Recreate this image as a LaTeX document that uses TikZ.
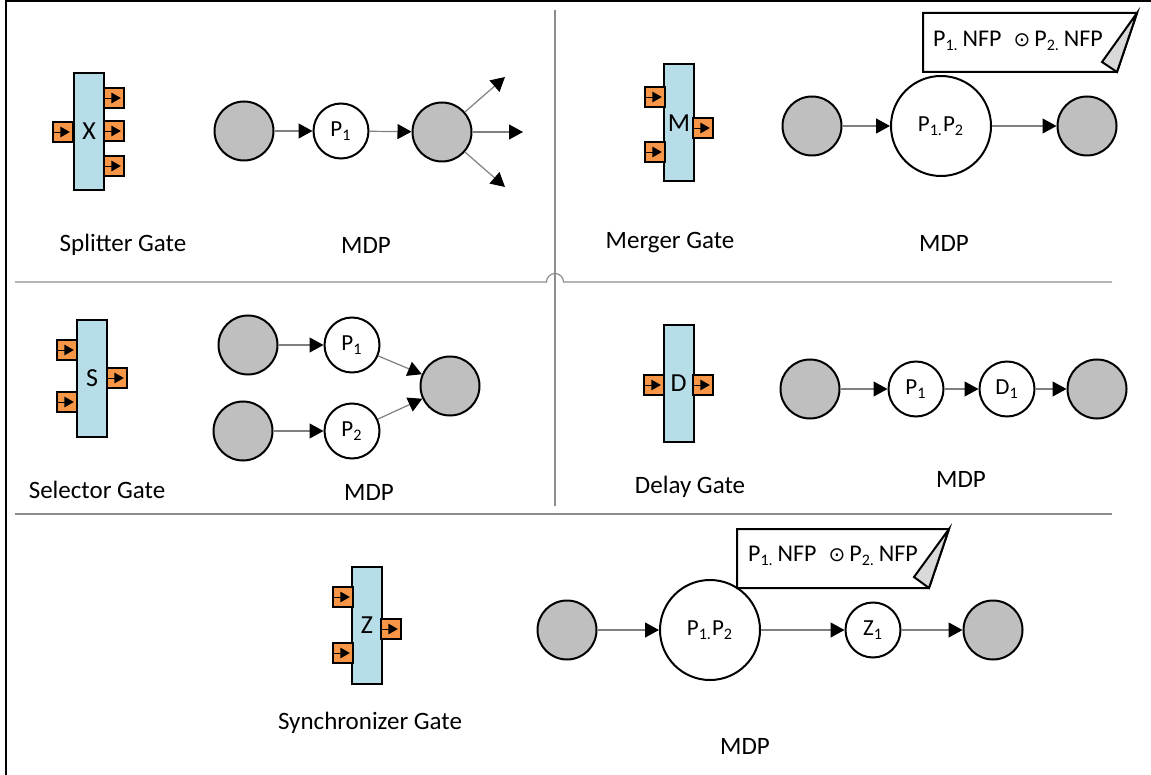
\documentclass[tikz,border=0pt]{standalone}
\usepackage{fontspec}
\setmainfont{Carlito}
\newfontfamily\symfont{DejaVu Sans}
\usetikzlibrary{arrows.meta,positioning}
\definecolor{gatefill}{HTML}{B7DDE8}
\definecolor{portfill}{HTML}{F79646}
\definecolor{placegray}{HTML}{BFBFBF}
\definecolor{foldgray}{HTML}{D9D9D9}
\definecolor{wire}{HTML}{7F7F7F}
\definecolor{rule}{HTML}{8C8C8C}
\tikzset{
  gate/.style={
    rectangle,
    draw=black,
    line width=1pt,
    fill=gatefill,
    minimum width=15pt,
    minimum height=58.5pt,
    inner sep=0pt,
    font=\fontsize{13}{15}\selectfont
  },
  port/.style={
    rectangle,
    draw=black,
    line width=0.8pt,
    fill=portfill,
    minimum size=10pt,
    inner sep=0pt,
    path picture={
      \draw[black, line width=0.3pt] ([xshift=-4.5pt]path picture bounding box.center) -- (path picture bounding box.center);
      \fill[black] ([xshift=-1.3pt,yshift=2.7pt]path picture bounding box.center)
        -- ([xshift=3.4pt]path picture bounding box.center)
        -- ([xshift=-1.3pt,yshift=-2.7pt]path picture bounding box.center) -- cycle;
    }
  },
  place/.style={
    circle,
    draw=black,
    line width=1pt,
    fill=placegray,
    minimum size=29.5pt,
    inner sep=0pt
  },
  proc/.style={
    circle,
    draw=black,
    line width=1pt,
    fill=white,
    minimum size=27.5pt,
    inner sep=0pt,
    font=\fontsize{11.5}{13}\selectfont
  },
  bigproc/.style={proc, minimum size=50pt},
  flow/.style={
    -{Triangle[length=7pt,width=7.5pt,color=black]},
    draw=wire,
    line width=0.6pt
  },
  caption/.style={font=\fontsize{12.5}{15}\selectfont},
  notetext/.style={font=\fontsize{12}{14}\selectfont},
  note/.style={draw=black, line width=1pt, fill=white},
  fold/.style={draw=black, line width=1pt, fill=foldgray},
  divider/.style={draw=rule, line width=0.6pt}
}
\newcommand{\nfp}{P\textsubscript{1.}\,NFP\enspace{\symfont\fontsize{10}{12}\selectfont ⊙}\,P\textsubscript{2.}\,NFP}

\begin{document}
\begin{tikzpicture}[x=0.5pt, y=-0.5pt]
  \useasboundingbox (0,0) rectangle (1151,775);
  \draw[line width=1pt] (1151,1.5) -- (5.5,1.5) -- (5.5,775);

  % dividers
  \draw[divider] (15,282) -- (546.5,282) arc (180:360:8.5) -- (1112,282);
  \draw[divider] (555,10) -- (555,506);
  \draw[divider] (15,514) -- (1112,514);

  % splitter gate
  \node[gate] (gx) at (89,131.5) {X};
  \node[port] (gx-in) at (63,132) {};
  \node[port] (gx-out1) at (114,98) {};
  \node[port] (gx-out2) at (114,131) {};
  \node[port] (gx-out3) at (114,166) {};
  \node[caption] (gx-lbl) at (123,245) {Splitter Gate};

  \node[place] (sp-a) at (244,131) {};
  \node[proc] (sp-p1) at (341,131) {P\textsubscript{1}};
  \node[place] (sp-b) at (442,132) {};
  \coordinate (sp-up) at (505,77);
  \coordinate (sp-mid) at (523,132);
  \coordinate (sp-down) at (505,187);
  \draw[flow] (sp-a) -- (sp-p1);
  \draw[flow] (sp-p1) -- (sp-b);
  \draw[flow] (sp-b) -- (sp-up);
  \draw[flow] (sp-b) -- (sp-mid);
  \draw[flow] (sp-b) -- (sp-down);
  \node[caption] (sp-lbl) at (366,245) {MDP};

  % merger gate
  \node[gate] (gm) at (679,123) {M};
  \node[port] (gm-in1) at (655,97) {};
  \node[port] (gm-in2) at (655,152) {};
  \node[port] (gm-out) at (703,128) {};
  \node[caption] (gm-lbl) at (670,243) {Merger Gate};

  \node[place] (mg-a) at (812,126) {};
  \node[bigproc] (mg-p) at (941,126) {P\textsubscript{1.}P\textsubscript{2}};
  \node[place] (mg-b) at (1087,126) {};
  \draw[flow] (mg-a) -- (mg-p);
  \draw[flow] (mg-p) -- (mg-b);
  \node[caption] (mg-lbl) at (944,243) {MDP};

  \draw[note] (923,13) -- (1137,13) -- (1117,72) -- (923,72) -- cycle;
  \draw[fold] (1137,13) -- (1102,62) -- (1117,72) -- cycle;
  \node[notetext] (mg-nfp) at (1018,41) {\nfp};

  % selector gate
  \node[gate] (gs) at (92,378) {S};
  \node[port] (gs-in1) at (67,350) {};
  \node[port] (gs-in2) at (67,402) {};
  \node[port] (gs-out) at (117,378) {};
  \node[caption] (gs-lbl) at (97,490) {Selector Gate};

  \node[place] (sl-a) at (248,345) {};
  \node[proc] (sl-p1) at (352,345) {P\textsubscript{1}};
  \node[place] (sl-b) at (243,431) {};
  \node[proc] (sl-p2) at (352,431) {P\textsubscript{2}};
  \node[place] (sl-c) at (450,386) {};
  \draw[flow] (sl-a) -- (sl-p1);
  \draw[flow] (sl-b) -- (sl-p2);
  \draw[flow] (sl-p1) -- (sl-c);
  \draw[flow] (sl-p2) -- (sl-c);
  \node[caption] (sl-lbl) at (369,492) {MDP};

  % delay gate
  \node[gate] (gd) at (678.5,383) {D};
  \node[port] (gd-in) at (654,385) {};
  \node[port] (gd-out) at (703,385) {};
  \node[caption] (gd-lbl) at (690,487) {Delay Gate};

  \node[place] (dl-a) at (810,389) {};
  \node[proc] (dl-p1) at (916,389) {P\textsubscript{1}};
  \node[proc] (dl-d1) at (1007,389) {D\textsubscript{1}};
  \node[place] (dl-b) at (1097,389) {};
  \draw[flow] (dl-a) -- (dl-p1);
  \draw[flow] (dl-p1) -- (dl-d1);
  \draw[flow] (dl-d1) -- (dl-b);
  \node[caption] (dl-lbl) at (961,479) {MDP};

  % synchronizer gate
  \node[gate] (gz) at (367,625.5) {Z};
  \node[port] (gz-in1) at (343,597) {};
  \node[port] (gz-in2) at (343,653) {};
  \node[port] (gz-out) at (391,629) {};
  \node[caption] (gz-lbl) at (370,723) {Synchronizer Gate};

  \node[place] (sy-a) at (567,630) {};
  \node[bigproc] (sy-p) at (710,630) {P\textsubscript{1.}P\textsubscript{2}};
  \node[proc] (sy-z1) at (873,630) {Z\textsubscript{1}};
  \node[place] (sy-b) at (993,630) {};
  \draw[flow] (sy-a) -- (sy-p);
  \draw[flow] (sy-p) -- (sy-z1);
  \draw[flow] (sy-z1) -- (sy-b);
  \node[caption] (sy-lbl) at (745,746) {MDP};

  \draw[note] (737,529) -- (949,529) -- (929,588) -- (737,588) -- cycle;
  \draw[fold] (949,529) -- (914,577) -- (929,588) -- cycle;
  \node[notetext] (sy-nfp) at (833,556) {\nfp};
\end{tikzpicture}
\end{document}
